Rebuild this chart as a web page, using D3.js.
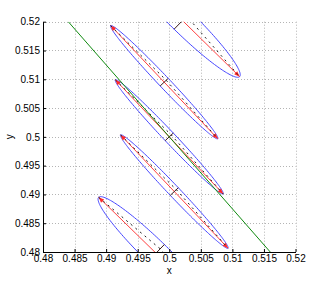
<!DOCTYPE html>
<html>
<head>
<meta charset="utf-8">
<script src="https://cdn.jsdelivr.net/npm/d3@7.9.0/dist/d3.min.js"></script>
<style>
  body { margin: 0; background: #fff; }
  text { font-family: "Liberation Sans", Arial, sans-serif; font-size: 10px; }
</style>
</head>
<body>
<div id="chart"></div>
<script>
// ---------------------- Data ----------------------
const tickValues = [0.48, 0.485, 0.49, 0.495, 0.5, 0.505, 0.51, 0.515, 0.52];
const tickLabels = ['0.48', '0.485', '0.49', '0.495', '0.5', '0.505', '0.51', '0.515', '0.52'];

// ellipses, bottom-left to top-right
const ellipseNames = ['E', 'A', 'C', 'D', 'B'];
const centerX = [0.4979, 0.4992, 0.5000, 0.5008, 0.5021];
const centerY = [0.4798, 0.5095, 0.5000, 0.4905, 0.5202];
// half major axis (towards lower right)
const majorDX = [0.00908, 0.00849, 0.00854, 0.00851, 0.00905];
const majorDY = [-0.00970, -0.00983, -0.00991, -0.00984, -0.00974];
// half minor axis (towards upper right)
const minorDX = [0.00133, 0.00064, 0.00064, 0.00064, 0.00133];
const minorDY = [0.00150, 0.00066, 0.00066, 0.00066, 0.00150];

// green line
const lineX = [0.484, 0.516];
const lineY = [0.52, 0.48];

// ---------------------- Chart ----------------------
const width = 327, height = 284;
const plot = { left: 43, right: 295.5, top: 21.7, bottom: 252 };

const svg = d3.select('#chart').append('svg')
  .attr('width', width)
  .attr('height', height);

const xScale = d3.scaleLinear().domain([0.48, 0.52]).range([plot.left, plot.right]);
const yScale = d3.scaleLinear().domain([0.48, 0.52]).range([plot.bottom, plot.top]);

const defs = svg.append('defs');
defs.append('clipPath').attr('id', 'clip')
  .append('rect')
  .attr('x', plot.left).attr('y', plot.top)
  .attr('width', plot.right - plot.left).attr('height', plot.bottom - plot.top);

defs.append('marker')
  .attr('id', 'arrow')
  .attr('markerUnits', 'userSpaceOnUse')
  .attr('viewBox', '-6 -3 7 6')
  .attr('refX', 0).attr('refY', 0)
  .attr('markerWidth', 7).attr('markerHeight', 6)
  .attr('orient', 'auto-start-reverse')
  .append('path')
  .attr('d', 'M0,0 L-5.5,-2.2 L-5.5,2.2 Z')
  .attr('fill', '#ff2a2a');

// grid
const grid = svg.append('g').attr('class', 'grid')
  .attr('stroke', '#b4b4b4')
  .attr('stroke-width', 1)
  .attr('stroke-dasharray', '1,2');
grid.selectAll('line.gx')
  .data(tickValues.slice(1))
  .join('line')
  .attr('class', 'gx')
  .attr('x1', d => Math.round(xScale(d)) + 0.5).attr('x2', d => Math.round(xScale(d)) + 0.5)
  .attr('y1', plot.top).attr('y2', plot.bottom);
grid.selectAll('line.gy')
  .data(tickValues.slice(1))
  .join('line')
  .attr('class', 'gy')
  .attr('y1', d => Math.round(yScale(d)) + 0.5).attr('y2', d => Math.round(yScale(d)) + 0.5)
  .attr('x1', plot.left).attr('x2', plot.right);

// ellipses
const layer = svg.append('g').attr('clip-path', 'url(#clip)');
const ellipseLine = d3.line().x(d => xScale(d[0])).y(d => yScale(d[1]));
const angles = d3.range(0, 2 * Math.PI + 0.001, Math.PI / 90);

ellipseNames.forEach((name, i) => {
  const cx = centerX[i], cy = centerY[i];
  const mx = majorDX[i], my = majorDY[i];
  const nx = minorDX[i], ny = minorDY[i];

  const outline = angles.map(t => [cx + mx * Math.cos(t) + nx * Math.sin(t),
                                   cy + my * Math.cos(t) + ny * Math.sin(t)]);
  layer.append('path')
    .attr('d', ellipseLine(outline))
    .attr('fill', 'none')
    .attr('stroke', '#4646ff')
    .attr('stroke-width', 1);

  layer.append('path')
    .attr('d', ellipseLine([[cx - mx, cy - my], [cx + mx, cy + my]]))
    .attr('fill', 'none')
    .attr('stroke', '#ff4040')
    .attr('stroke-width', 1)
    .attr('marker-start', 'url(#arrow)')
    .attr('marker-end', 'url(#arrow)');

  layer.append('path')
    .attr('d', ellipseLine([[cx - mx, cy - my], [cx + nx * 0.5, cy + ny * 0.5], [cx + mx, cy + my]]))
    .attr('fill', 'none')
    .attr('stroke', '#222')
    .attr('stroke-width', 1)
    .attr('stroke-dasharray', '2,4');

  layer.append('path')
    .attr('d', ellipseLine([[cx - nx, cy - ny], [cx + nx, cy + ny]]))
    .attr('fill', 'none')
    .attr('stroke', '#3a1a1a')
    .attr('stroke-width', 1);
});

layer.append('path')
  .attr('d', ellipseLine(lineX.map((x, i) => [x, lineY[i]])))
  .attr('fill', 'none')
  .attr('stroke', '#108a10')
  .attr('stroke-width', 1);

// axes
const fmt = d => tickLabels[tickValues.indexOf(d)];
const xAxis = svg.append('g')
  .attr('transform', `translate(0,${plot.bottom})`)
  .call(d3.axisBottom(xScale).tickValues(tickValues).tickFormat(fmt).tickSizeInner(-3).tickSizeOuter(0).tickPadding(3));
const yAxis = svg.append('g')
  .attr('transform', `translate(${plot.left},0)`)
  .call(d3.axisLeft(yScale).tickValues(tickValues).tickFormat(fmt).tickSizeInner(-3).tickSizeOuter(0).tickPadding(3));

[xAxis, yAxis].forEach(a => {
  a.select('.domain').attr('stroke', '#000');
  a.selectAll('.tick line').attr('stroke', '#000');
  a.selectAll('.tick text').attr('fill', '#000')
    .style('font-family', '"Liberation Sans", Arial, sans-serif').style('font-size', '10px');
});
xAxis.selectAll('.tick text').attr('dy', '0.71em');

svg.append('text')
  .attr('x', xScale(0.5)).attr('y', 274)
  .attr('text-anchor', 'middle')
  .text('x');
svg.append('text')
  .attr('transform', `translate(13,${yScale(0.5)}) rotate(-90)`)
  .attr('text-anchor', 'middle')
  .text('y');
</script>
</body>
</html>
